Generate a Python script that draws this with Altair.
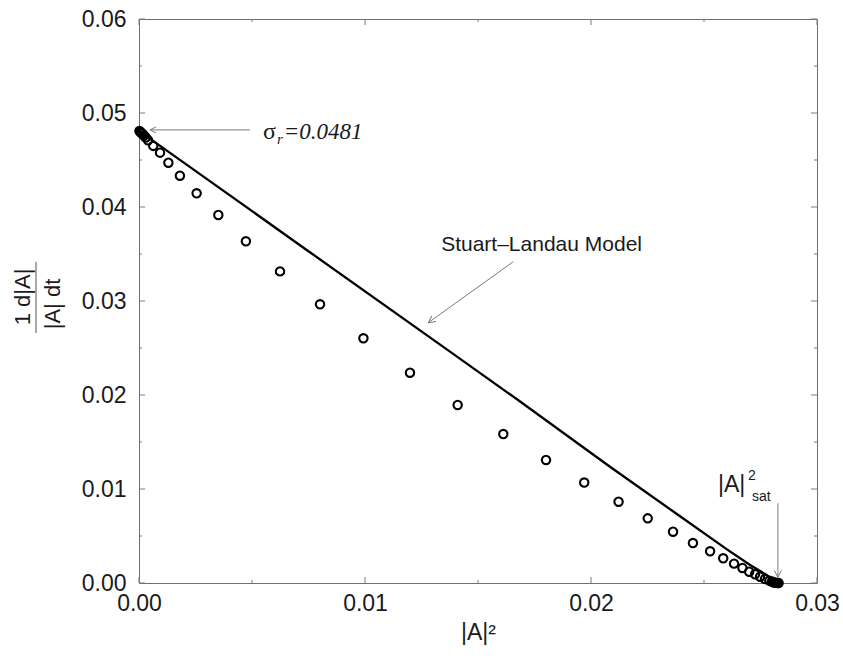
import altair as alt
import pandas as pd

# ---------------- data ----------------
pts_x = [0.00002, 0.00005, 0.0001, 0.00015, 0.00022, 0.0003, 0.0004, 0.00063, 0.00093,
         0.0013, 0.00181, 0.00255, 0.00351, 0.00473, 0.00624, 0.00801, 0.00993, 0.01199,
         0.0141, 0.01612, 0.01801, 0.0197, 0.02122, 0.02251, 0.02363, 0.02451, 0.02527,
         0.02585, 0.02633, 0.0267, 0.027, 0.02726, 0.02748, 0.0277, 0.02789, 0.028,
         0.02807, 0.02813, 0.02819, 0.02826, 0.0283]
pts_y = [0.0481, 0.048, 0.0479, 0.0478, 0.0476, 0.0474, 0.0471, 0.0465, 0.04578,
         0.04471, 0.04333, 0.04146, 0.03915, 0.03635, 0.03315, 0.02965, 0.02603, 0.02237,
         0.01894, 0.01585, 0.01309, 0.01069, 0.00865, 0.00688, 0.00546, 0.00425, 0.00337,
         0.00263, 0.00206, 0.0016, 0.0012, 0.00093, 0.00067, 0.00043, 0.00025, 0.00015,
         0.00008, 0.00004, 0.00002, 0.0, 0.0]

line_x = [0.0, 0.00742, 0.01376, 0.01671, 0.02084, 0.02394, 0.026, 0.02704, 0.0277, 0.02826]
line_y = [0.0481, 0.03543, 0.02461, 0.01957, 0.01237, 0.0071, 0.0036, 0.00191, 0.00095, 0.0]

x_major = [0.0, 0.01, 0.02, 0.03]
x_minor = [0.005, 0.015, 0.025]
y_major = [0.0, 0.01, 0.02, 0.03, 0.04, 0.05, 0.06]
y_minor = [0.005, 0.015, 0.025, 0.035, 0.045, 0.055]

# annotation anchors (data units)
sigma_arrow = {"x": [0.00491, 0.00049], "y": [0.0482, 0.0482]}
sl_arrow = {"x": [0.01656, 0.0128], "y": [0.03418, 0.02769]}
sat_arrow = {"x": [0.02827, 0.02827], "y": [0.00848, 0.0006]}

W, H = 678, 564
SANS = "Liberation Sans"
SERIF = "Liberation Serif"
GRAY = "#7a7a7a"

xs = alt.Scale(domain=[0, 0.03], nice=False, zero=False)
ys = alt.Scale(domain=[0, 0.06], nice=False, zero=False)

x_axis = alt.Axis(values=x_major, format=".2f", ticks=False, domain=False, grid=False,
                  labelFont=SANS, labelFontSize=23, labelColor="#1a1a1a", labelPadding=9,
                  labelFlush=False, labelOverlap=False,
                  title="|A|²", titleFont=SANS, titleFontSize=23, titleFontWeight="normal",
                  titleColor="#1a1a1a", titlePadding=6)
y_axis = alt.Axis(values=y_major, format=".2f", ticks=False, domain=False, grid=False,
                  labelFont=SANS, labelFontSize=23, labelColor="#1a1a1a", labelPadding=13,
                  labelFlush=False, labelOverlap=False, title=None)

pts_df = pd.DataFrame({"x": pts_x, "y": pts_y})
line_df = pd.DataFrame({"x": line_x, "y": line_y})

points = alt.Chart(pts_df).mark_point(shape="circle", filled=False, size=70,
                                      strokeWidth=2.1, color="black", opacity=1).encode(
    x=alt.X("x:Q", scale=xs, axis=x_axis),
    y=alt.Y("y:Q", scale=ys, axis=y_axis),
)

curve = alt.Chart(line_df).mark_line(color="black", strokeWidth=2.3).encode(
    x=alt.X("x:Q", scale=xs), y=alt.Y("y:Q", scale=ys), order="x:Q")

# ticks (inside, mirrored on all four sides)
def xticks(vals, length):
    d = pd.DataFrame({"x": vals})
    bot = alt.Chart(d).mark_rule(color=GRAY, strokeWidth=1).encode(
        x=alt.X("x:Q", scale=xs), y=alt.value(H), y2=alt.value(H - length))
    top = alt.Chart(d).mark_rule(color=GRAY, strokeWidth=1).encode(
        x=alt.X("x:Q", scale=xs), y=alt.value(0), y2=alt.value(length))
    return [bot, top]

def yticks(vals, length):
    d = pd.DataFrame({"y": vals})
    left = alt.Chart(d).mark_rule(color=GRAY, strokeWidth=1).encode(
        y=alt.Y("y:Q", scale=ys), x=alt.value(0), x2=alt.value(length))
    right = alt.Chart(d).mark_rule(color=GRAY, strokeWidth=1).encode(
        y=alt.Y("y:Q", scale=ys), x=alt.value(W), x2=alt.value(W - length))
    return [left, right]

tick_layers = xticks(x_major, 6) + xticks(x_minor, 3) + yticks(y_major, 6) + yticks(y_minor, 3)

# arrows
HEAD = "M0,0L2,-1M0,0L2,1"

def arrow(d, angle, size):
    df = pd.DataFrame(d)
    shaft = alt.Chart(df).mark_line(color=GRAY, strokeWidth=1).encode(
        x=alt.X("x:Q", scale=xs), y=alt.Y("y:Q", scale=ys))
    tip = df.iloc[[1]]
    head = alt.Chart(tip).mark_point(shape=HEAD, filled=False, size=size, color=GRAY,
                                     strokeWidth=1, opacity=1, angle=angle).encode(
        x=alt.X("x:Q", scale=xs), y=alt.Y("y:Q", scale=ys))
    return [shaft, head]

arrow_layers = arrow(sigma_arrow, 0, 36) + arrow(sl_arrow, 324, 49) + arrow(sat_arrow, 270, 49)

# text annotations
def label(x, y, text, font, size, style="normal", align="left", dy=0):
    df = pd.DataFrame({"x": [x], "y": [y], "t": [text]})
    return alt.Chart(df).mark_text(font=font, fontSize=size, fontStyle=style, align=align,
                                   baseline="middle", color="#1a1a1a", dy=dy).encode(
        x=alt.X("x:Q", scale=xs), y=alt.Y("y:Q", scale=ys), text="t:N")

text_layers = [
    label(0.00549, 0.0480, "σ", SERIF, 24),
    label(0.00611, 0.0472, "r", SERIF, 15, style="italic"),
    label(0.0064, 0.0480, "=0.0481", SERIF, 23, style="italic"),
    label(0.01337, 0.03596, "Stuart–Landau Model", SANS, 21),
    label(0.02562, 0.01043, "|A|", SANS, 23),
    label(0.02695, 0.01135, "2", SANS, 14),
    label(0.02712, 0.00912, "sat", SANS, 14),
]

# y-axis title as a fraction (rotated)
num_df = pd.DataFrame({"t": ["1 d|A|"]})
den_df = pd.DataFrame({"t": ["|A| dt"]})
ytitle_num = alt.Chart(num_df).mark_text(font=SANS, fontSize=22, angle=270, align="center",
                                         baseline="middle", color="#1a1a1a").encode(
    x=alt.value(-116), y=alt.value(278), text="t:N")
ytitle_den = alt.Chart(den_df).mark_text(font=SANS, fontSize=22, angle=270, align="center",
                                         baseline="middle", color="#1a1a1a").encode(
    x=alt.value(-86), y=alt.value(285), text="t:N")
ytitle_bar = alt.Chart(num_df).mark_rule(color="#555", strokeWidth=1).encode(
    x=alt.value(-103), y=alt.value(243), y2=alt.value(314))

chart = alt.layer(
    curve, points, *tick_layers, *arrow_layers, *text_layers,
    ytitle_num, ytitle_den, ytitle_bar,
).properties(
    width=W, height=H,
    autosize=alt.AutoSizeParams(type="none"),
    padding={"left": 139, "top": 19, "right": 26, "bottom": 73},
    background="white",
).configure_view(stroke="#6e6e6e", strokeWidth=1)

chart.save("out.html", embed_options={"renderer": "svg", "actions": False})
